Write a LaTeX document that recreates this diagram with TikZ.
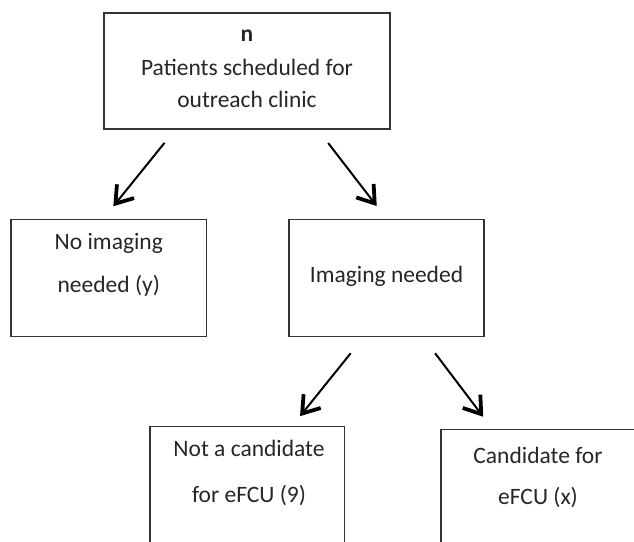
\documentclass[tikz,border=0pt]{standalone}
\usepackage{fontspec}
\setmainfont{Carlito}
\usepackage{tikz}
\usetikzlibrary{arrows.meta}

\tikzset{
	box/.style={draw=black!80, line width=1.2pt, rectangle, inner sep=0pt},
	boxtext/.style={anchor=base, align=center, inner sep=0pt, text=black!85},
	flow/.style={line width=2pt, -{Straight Barb[length=16pt,width=22pt,line width=3.8pt]}, shorten <=17pt, shorten >=16pt}
}

\begin{document}
\begin{tikzpicture}[x=1pt, y=-1pt, font=\fontsize{23.5}{33}\selectfont]
	\useasboundingbox (0,0) rectangle (634,541);
	\clip (0,0) rectangle (634,541);
	
	%BOXES
	\node[box, minimum width=286pt, minimum height=116pt] (top) at (247,71) {};
	\node[box, minimum width=195.7pt, minimum height=117.4pt] (noimg) at (108.8,278) {};
	\node[box, minimum width=195pt, minimum height=117.4pt] (img) at (386.5,278) {};
	\node[box, minimum width=194.3pt, minimum height=140pt] (notcand) at (247.2,496.5) {};
	\node[box, minimum width=194pt, minimum height=140pt] (cand) at (538,499.3) {};
	
	%testo (base = ultima riga)
	\node[boxtext] (toptext) at ([yshift=-95pt]top.north) {\textbf{n}\\[1pt]Patients scheduled for\\[-1pt]outreach clinic};
	\node[boxtext, font=\fontsize{23.5}{42.7}\selectfont] (noimgtext) at ([yshift=-73.4pt]noimg.north) {No imaging\\needed (y)};
	\node[boxtext] (imgtext) at ([yshift=-63.4pt]img.north) {Imaging needed};
	\node[boxtext, font=\fontsize{23.5}{46.6}\selectfont] (notcandtext) at ([xshift=1.8pt,yshift=-76.8pt]notcand.north) {Not a candidate\\for eFCU (9)};
	\node[boxtext, font=\fontsize{23.5}{41}\selectfont] (candtext) at ([yshift=-75.7pt]cand.north) {Candidate for\\eFCU (x)};
	
	%FRECCE
	\draw[flow] ([xshift=-71.8pt]top.south) -- ([xshift=-5.5pt]noimg.north);
	\draw[flow] ([xshift=70.8pt]top.south) -- (img.north);
	\draw[flow, shorten <=20.4pt, shorten >=12.5pt] ([xshift=-23pt]img.south) -- ([xshift=45pt]notcand.north);
	\draw[flow, shorten <=20pt, shorten >=15pt] ([xshift=36.5pt]img.south) -- ([xshift=-45.7pt]cand.north);
	
\end{tikzpicture}
\end{document}
